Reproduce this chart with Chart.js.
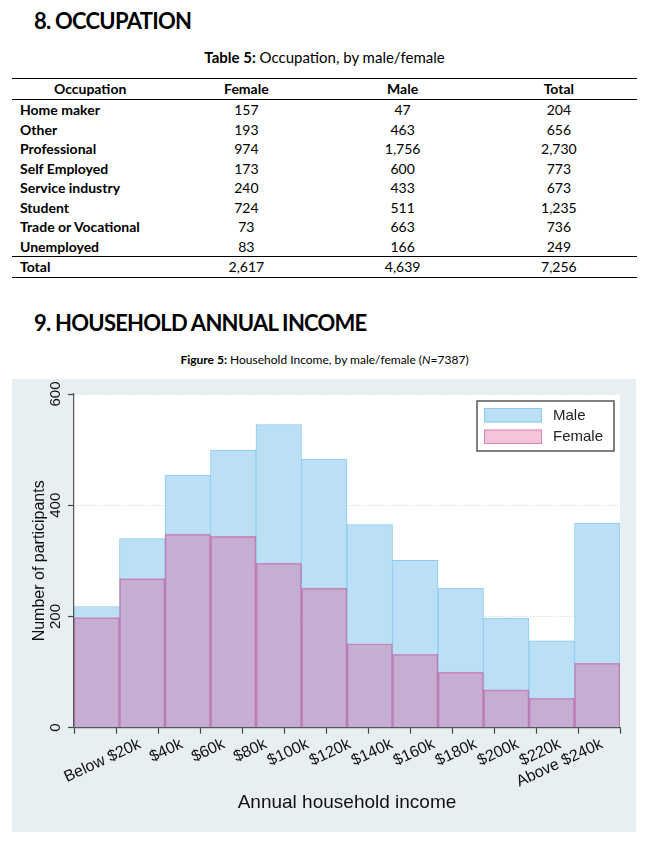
<!DOCTYPE html>
<html>
<head>
<meta charset="utf-8">
<script src="https://cdn.jsdelivr.net/npm/chart.js@4.4.0/dist/chart.umd.min.js"></script>
<style>
  body { margin: 0; background: #fff; font-family: Lato, 'Open Sans', sans-serif; color: #000; }
  .page { position: relative; width: 649px; height: 841px; overflow: hidden; }
  h2 { position: absolute; left: 34px; margin: 0; font-size: 22px; line-height: 22px; font-weight: 700; letter-spacing: -0.75px; }
  .cap { position: absolute; left: 0; width: 649px; text-align: center; line-height: 16px; }
  table { position: absolute; left: 12px; top: 78px; width: 625px; border-collapse: collapse; font-size: 14px; }
  th, td { padding: 0; width: 25%; text-align: center; height: 19.5px; line-height: 19.5px; }
  thead tr { border-top: 1.5px solid #000; border-bottom: 1.2px solid #000; }
  th { font-weight: 700; height: 20px; }
  td.name { text-align: left; padding-left: 8px; font-weight: 700; }
  tr.total { border-top: 1.2px solid #000; border-bottom: 1.2px solid #000; }
  tr.total td { height: 19.5px; }
  #incomeChart { position: absolute; left: 12px; top: 379px; }
</style>
</head>
<body>
<div class="page">
  <h2 style="top:10px">8. OCCUPATION</h2>
  <div class="cap" style="top:49px;font-size:15px"><b>Table 5:</b> Occupation, by male/female</div>
  <table id="occTable">
    <thead><tr><th>Occupation</th><th>Female</th><th>Male</th><th>Total</th></tr></thead>
    <tbody></tbody>
  </table>
  <h2 style="top:312px">9. HOUSEHOLD ANNUAL INCOME</h2>
  <div class="cap" style="top:352px;font-size:12px"><b>Figure 5:</b> Household Income, by male/female (<i>N</i>=7387)</div>
  <canvas id="incomeChart" width="624" height="453"></canvas>
</div>
<script>
// table 5
const occupations = ['Home maker', 'Other', 'Professional', 'Self Employed', 'Service industry', 'Student', 'Trade or Vocational', 'Unemployed']
const occFemale = [157, 193, 974, 173, 240, 724, 73, 83]
const occMale = [47, 463, 1756, 600, 433, 511, 663, 166]
const occTotal = [204, 656, 2730, 773, 673, 1235, 736, 249]
const occSums = [2617, 4639, 7256]

// figure 5
const incomeEdges = ['Below $20k', '$40k', '$60k', '$80k', '$100k', '$120k', '$140k', '$160k', '$180k', '$200k', '$220k', 'Above $240k']
const maleCounts = [218, 340, 454, 499, 545, 483, 365, 301, 251, 197, 156, 368]
const femaleCounts = [198, 268, 348, 344, 296, 251, 151, 132, 100, 68, 53, 116]
const yTicks = [0, 200, 400, 600]

const fmt = n => n.toLocaleString('en-US')

const tbody = document.querySelector('#occTable tbody')
occupations.forEach((name, i) => {
    const tr = document.createElement('tr')
    tr.innerHTML = `<td class="name">${name}</td><td>${fmt(occFemale[i])}</td><td>${fmt(occMale[i])}</td><td>${fmt(occTotal[i])}</td>`
    tbody.appendChild(tr)
})
const totalRow = document.createElement('tr')
totalRow.className = 'total'
totalRow.innerHTML = `<td class="name">Total</td>` + occSums.map(v => `<td>${fmt(v)}</td>`).join('')
tbody.appendChild(totalRow)

const axisFont = "'Liberation Sans', Arial, sans-serif"

const background = {
    id: 'background',
    beforeDraw(chart) {
        const {ctx, chartArea: {left, top, width, height}} = chart
        ctx.save()
        ctx.fillStyle = '#e8eff2'
        ctx.fillRect(0, 0, chart.width, chart.height)
        ctx.fillStyle = '#ffffff'
        ctx.fillRect(left, top, width, height)
        ctx.restore()
    }
}

// stata style legend box in the top right corner
const legendBox = {
    id: 'legendBox',
    afterDraw(chart) {
        const {ctx, chartArea} = chart
        const w = 137, h = 50
        const x = chartArea.right - 6 - w
        const y = chartArea.top + 7
        ctx.save()
        ctx.fillStyle = '#fff'
        ctx.fillRect(x, y, w, h)
        ctx.strokeStyle = '#555'
        ctx.lineWidth = 1.5
        ctx.strokeRect(x, y, w, h)
        ctx.font = `15px ${axisFont}`
        ctx.textBaseline = 'middle'
        chart.data.datasets.forEach((ds, i) => {
            const sy = y + 7 + i * 21.5
            ctx.fillStyle = ds.backgroundColor
            ctx.fillRect(x + 7, sy, 58, 14.5)
            ctx.strokeStyle = ds.borderColor
            ctx.lineWidth = 1
            ctx.strokeRect(x + 7.5, sy + 0.5, 57, 13.5)
            ctx.fillStyle = '#222'
            ctx.fillText(ds.label, x + 76, sy + 7.5)
        })
        ctx.restore()
    }
}

new Chart(document.getElementById('incomeChart'), {
    type: 'bar',
    data: {
        labels: incomeEdges,
        datasets: [
            {
                label: 'Male',
                data: maleCounts,
                backgroundColor: '#bbe0f5',
                borderColor: '#8ccbee',
                borderWidth: 1,
                order: 1
            },
            {
                label: 'Female',
                data: femaleCounts,
                backgroundColor: 'rgba(223, 65, 136, 0.31)',
                borderColor: 'rgba(200, 70, 150, 0.5)',
                borderWidth: 1,
                order: 0
            }
        ]
    },
    options: {
        responsive: false,
        animation: false,
        layout: {padding: {left: 0, top: 15, right: 16, bottom: 0}},
        datasets: {bar: {categoryPercentage: 1, barPercentage: 1}},
        plugins: {
            legend: {display: false},
            tooltip: {enabled: false}
        },
        scales: {
            x: {display: false, stacked: true},
            xEdge: {
                type: 'linear',
                position: 'bottom',
                min: 0,
                max: incomeEdges.length,
                afterFit(scale) { scale.height = 104.3 },
                afterBuildTicks(scale) {
                    scale.ticks = incomeEdges.map((_, i) => ({value: i + 1}))
                    scale.ticks.unshift({value: 0})
                },
                ticks: {
                    autoSkip: false,
                    minRotation: 25,
                    maxRotation: 25,
                    padding: 1,
                    labelOffset: 3,
                    color: '#111',
                    font: {family: axisFont, size: 16},
                    callback: v => v >= 1 ? incomeEdges[v - 1] : ''
                },
                grid: {drawOnChartArea: false, drawTicks: true, tickLength: 6, tickColor: '#444', tickWidth: 1.2},
                border: {display: true, color: '#555', width: 1.2, z: 1},
                title: {
                    display: true,
                    text: 'Annual household income',
                    color: '#111',
                    font: {family: axisFont, size: 19},
                    padding: {top: 0, bottom: 18}
                }
            },
            y: {
                stacked: false,
                min: 0,
                max: 600,
                afterFit(scale) { scale.width = 62 },
                afterBuildTicks(scale) { scale.ticks = yTicks.map(v => ({value: v})) },
                ticks: {
                    minRotation: 90,
                    maxRotation: 90,
                    crossAlign: 'center',
                    padding: 0,
                    color: '#111',
                    font: {family: axisFont, size: 15}
                },
                grid: {color: '#c9d3d8', drawTicks: true, tickLength: 6, tickColor: '#444', tickWidth: 1.2},
                border: {display: true, color: '#555', width: 1.2, dash: [1, 2], z: 1},
                title: {
                    display: true,
                    text: 'Number of participants',
                    color: '#111',
                    font: {family: axisFont, size: 16},
                    padding: {top: 18, bottom: 0}
                }
            }
        }
    },
    plugins: [background, legendBox]
})
</script>
</body>
</html>
